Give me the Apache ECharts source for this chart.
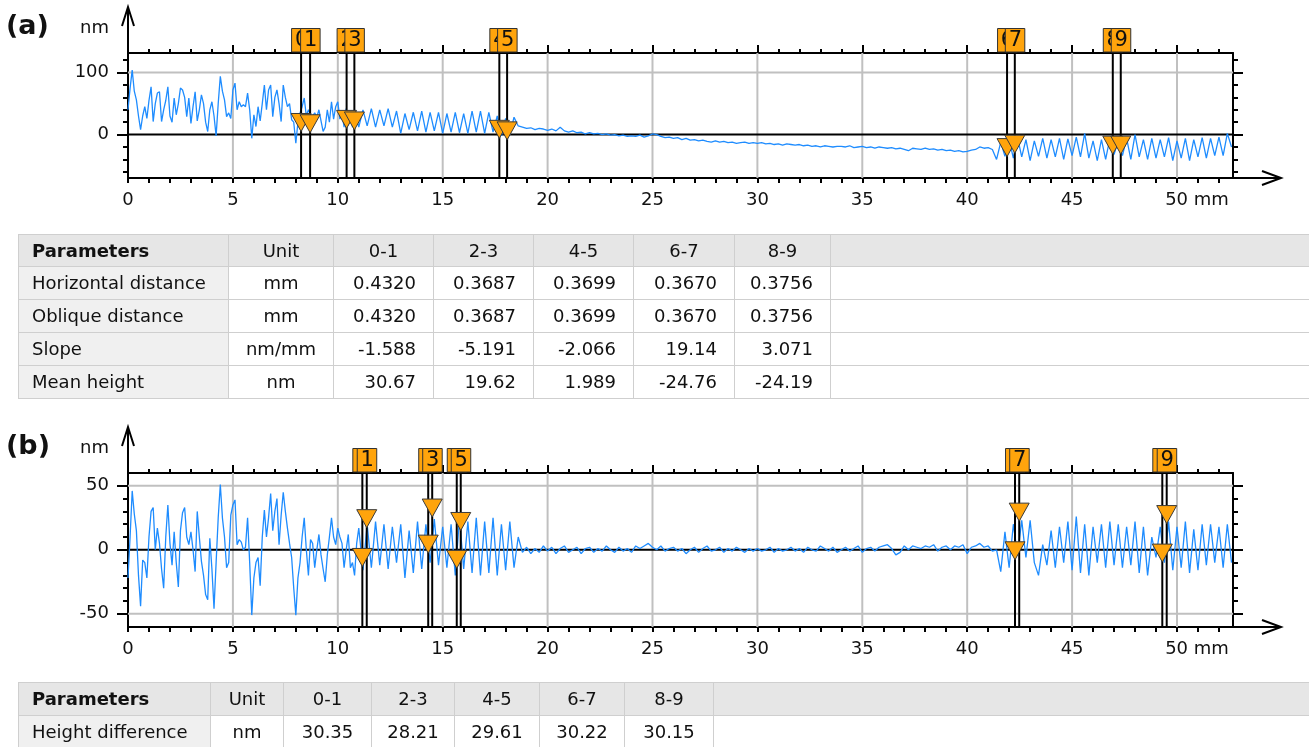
<!DOCTYPE html>
<html><head><meta charset="utf-8">
<script src="https://cdn.jsdelivr.net/npm/echarts@6/dist/echarts.min.js"></script>
<style>
html,body{margin:0;padding:0;background:#fff;width:1309px;height:747px;overflow:hidden;}
#chart{position:absolute;left:0;top:0;width:1309px;height:747px;}
table.tb{position:absolute;border-collapse:collapse;table-layout:fixed;font-family:'DejaVu Sans',sans-serif;font-size:18px;color:#111;}
table.tb td{border:1px solid #cfcfcf;padding:0;white-space:nowrap;overflow:hidden;line-height:20px;}
table.tb tr.hd td{background:#e6e6e6;}
table.tb td.nm{background:#f0f0f0;text-align:left;padding-left:13px;}
table.tb tr.hd td.nm{background:#e6e6e6;font-weight:bold;}
table.tb td.c{text-align:center;}
table.tb td.r{text-align:right;padding-right:17px;}
</style>
</head><body>
<div id="chart"></div>
<table class="tb" id="tabA" style="left:18px;top:234px;width:1292px;"></table>
<table class="tb" id="tabB" style="left:18px;top:682px;width:1292px;"></table>
<script>
// ---------- data ----------
const xMax = 52.67;
// profiles: fine samples 0.0–10.9 mm every 0.1 mm, then coarse samples 11.0–52.6 mm every 0.2 mm
const fineStart = 0, fineStep = 0.1, coarseStart = 11, coarseStep = 0.2;
const profileAFine = [
  40, 75, 104, 70, 56, 30, 8, 30, 45, 26,
  55, 77, 21, 50, 67, 69, 21, 40, 55, 77,
  30, 20, 59, 32, 50, 75, 72, 60, 29, 59,
  18, 45, 69, 22, 40, 64, 50, 20, 5, 40,
  53, 30, -2, 50, 94, 70, 56, 29, 35, 26,
  72, 83, 40, 53, 45, 48, 45, 67, 40, -6,
  32, 13, 45, 22, 50, 80, 40, 72, 80, 29,
  60, 72, 50, 21, 80, 60, 45, 50, 24, 20,
  -14, 20, 35, 45, 59, 30, 40, 32, 30, 35,
  28, 40, 22, 5, 12, 40, 20, 53, 25, 45,
  53, 25, 35, 12, 42, 15, 38, 12, 40, 25
];
const profileACoarse = [
  12, 40, 14, 42, 12,
  40, 14, 42, 12, 38, 2, 34, 8, 36, 6,
  38, 4, 36, 6, 36, 2, 34, 4, 36, 3,
  34, 2, 38, 4, 38, 2, 36, 4, 30, -2,
  26, 0, 28, 14, 12, 10, 11, 8, 10, 9,
  7, 9, 6, 12, 6, 4, 6, 3, 4, 1,
  3, 1, 2, 0, 1, -1, 0, -2, -1, -3,
  -2, -3, -1, -4, -2, 1, 0, -3, -5, -4,
  -6, -5, -8, -6, -9, -8, -10, -9, -11, -12,
  -10, -12, -11, -13, -12, -14, -13, -12, -14, -13,
  -14, -13, -15, -14, -16, -15, -17, -15, -16, -17,
  -16, -18, -17, -19, -18, -20, -18, -19, -20, -19,
  -19, -20, -18, -21, -20, -19, -21, -20, -22, -20,
  -21, -22, -21, -23, -22, -24, -26, -22, -23, -24,
  -22, -24, -23, -25, -24, -26, -25, -27, -26, -28,
  -27, -25, -24, -20, -22, -21, -24, -40, -12, -35,
  -8, -38, -5, -36, -8, -42, -10, -35, -6, -38,
  -8, -36, -6, -40, -7, -34, -4, -36, 2, -38,
  -10, -42, -8, -40, -6, -32, -10, -34, -6, -40,
  0, -36, -8, -40, -6, -38, -8, -36, -5, -42,
  -10, -38, -6, -42, -8, -36, -5, -38, -6, -34,
  -4, -34, 2, -20
];
const profileBFine = [
  -22, 10, 46, 28, 15, -20, -44, -8, -10, -22,
  10, 30, 33, 0, 17, 5, -15, -30, 10, 35,
  5, -12, 14, -10, -29, 15, 29, 33, 10, 4,
  14, 0, -17, 30, 10, -9, -20, -35, -39, 9,
  -15, -46, -10, 25, 51, 25, 10, -14, -10, 27,
  35, 39, 4, 8, 6, 0, 2, 25, -10, -51,
  -22, -10, -6, -28, 10, 31, 10, 25, 44, 15,
  30, 40, 4, 27, 45, 30, 17, 5, -6, -30,
  -51, -22, -10, 10, 25, 0, -20, 8, 5, -14,
  0, 12, -4, -15, -25, -4, 10, 25, 10, 4,
  17, 10, 5, -14, 0, 12, -14, -10, -20, 5
];
const profileBCoarse = [
  17, -16, 20, -14, 22,
  -12, 20, -15, 18, -10, 20, -22, 15, -18, 22,
  -15, 20, -10, 24, -12, 18, -14, 20, -20, 25,
  -15, 22, -18, 25, -20, 22, -18, 25, -20, 20,
  -16, 22, -14, 10, -2, 2, -3, 1, -2, 3,
  -1, 2, -3, 1, 3, -2, 0, 2, -3, 1,
  2, -2, 1, -1, 3, 0, -2, 2, -1, 1,
  -2, 3, 1, 3, 5, 2, 0, 3, -1, 1,
  2, -1, 1, -3, 0, 2, -2, 1, 3, -1,
  0, 2, -2, 1, -1, 2, 0, -2, 1, -1,
  1, -1, 0, 2, -2, 1, -1, 0, 2, -1,
  1, -2, 2, 0, -1, 3, 1, -1, 2, -2,
  0, 2, -1, 1, 3, -2, 1, 2, -1, 2,
  3, 4, 1, -4, -2, 3, 0, 3, 2, 1,
  3, 2, 4, -1, 2, 3, 0, 3, 2, 4,
  -3, 2, 3, 5, 2, 3, -1, 0, -17, 14,
  -14, 20, -4, 23, -6, 23, -10, -20, 4, -12,
  15, -14, 18, -10, 22, -16, 26, -18, 20, -20,
  18, -10, 20, -14, 22, -12, 20, -14, 18, -12,
  22, -18, 18, -20, 10, -6, 18, -10, 22, -16,
  18, -14, 22, -18, 16, -16, 20, -12, 20, -10,
  18, -14, 20, -10
];
const markerLabels = ['0','1','2','3','4','5','6','7','8','9'];
const markerXA = [8.25, 8.68, 10.42, 10.79, 17.70, 18.07, 41.90, 42.27, 46.94, 47.32];
const markerYA = [5, 3, 10, 7.5, -6, -8.5, -35.5, -30, -31.5, -31.5];
const markerXB = [11.17, 11.38, 14.31, 14.50, 15.67, 15.86, 42.28, 42.48, 49.30, 49.51];
const markerYB = [-13, 17.3, -2.6, 25.6, -14.5, 15.1, -7.8, 22.4, -9.6, 20.5];

const xLabelTicks = [0, 5, 10, 15, 20, 25, 30, 35, 40, 45, 50];
const xMinorTicks = [0,1,2,3,4,5,6,7,8,9,10,11,12,13,14,15,16,17,18,19,20,21,22,23,24,25,26,27,28,29,30,31,32,33,34,35,36,37,38,39,40,41,42,43,44,45,46,47,48,49,50,51,52];
const xTopMajorTicks = [5, 10, 15, 20, 25, 30, 35, 40, 45, 50];
const xGridLines = [5, 10, 15, 20, 25, 30, 35, 40, 45, 50];
const yRangeA = [-70, 131.6];
const yLabelTicksA = [0, 100];
const yMinorTicksA = [-60, -40, -20, 0, 20, 40, 60, 80, 100, 120];
const yGridA = [100];
const yRangeB = [-60.3, 60];
const yLabelTicksB = [-50, 0, 50];
const yMinorTicksB = [-50, -40, -30, -20, -10, 0, 10, 20, 30, 40, 50];
const yGridB = [-50, 50];

const pairLabels = ['0-1', '2-3', '4-5', '6-7', '8-9'];
const horizontalDistance = ['0.4320', '0.3687', '0.3699', '0.3670', '0.3756'];
const obliqueDistance = ['0.4320', '0.3687', '0.3699', '0.3670', '0.3756'];
const slope = ['-1.588', '-5.191', '-2.066', '19.14', '3.071'];
const meanHeight = ['30.67', '19.62', '1.989', '-24.76', '-24.19'];
const heightDifference = ['30.35', '28.21', '29.61', '30.22', '30.15'];

// ---------- layout ----------
const FONT = 'DejaVu Sans';
const GRIDS = [
  {left: 128, top: 53, width: 1105, height: 125},
  {left: 128, top: 473, width: 1105, height: 154}
];
const ORANGE = '#FFA40C';

const toPairs = (fine, coarse) =>
  fine.map((v, i) => [fineStart + i * fineStep, v]).concat(coarse.map((v, i) => [coarseStart + i * coarseStep, v]));
const zip = (xs, ys) => xs.map((x, i) => [x, ys[i]]);

const xAxis = [], yAxis = [], series = [];
const blackLine = {color: '#000', width: 2};

function addChart(gi, yRange, yLabels, yMinor, yGrid, profile, mX, mY) {
  const xi = xAxis.length, yi = yAxis.length;
  xAxis.push(
    {gridIndex: gi, type: 'value', position: 'bottom', min: 0, max: xMax,
     axisLine: {show: true, onZero: false, lineStyle: blackLine},
     axisTick: {show: true, customValues: xMinorTicks, length: 5, lineStyle: blackLine},
     axisLabel: {show: true, customValues: xLabelTicks, margin: 13, fontSize: 18, color: '#111', fontFamily: FONT,
       formatter: v => v === 50 ? '{p| }50 mm' : String(v), rich: {p: {width: 40}}},
     splitLine: {show: false}},
    {gridIndex: gi, type: 'value', position: 'top', min: 0, max: xMax,
     axisLine: {show: true, onZero: false, lineStyle: blackLine},
     axisTick: {show: true, customValues: xMinorTicks, length: 4, lineStyle: blackLine},
     axisLabel: {show: false}, splitLine: {show: false}},
    {gridIndex: gi, type: 'value', position: 'top', min: 0, max: xMax,
     axisLine: {show: false, onZero: false},
     axisTick: {show: true, customValues: xTopMajorTicks, length: 8, lineStyle: blackLine},
     axisLabel: {show: false}, splitLine: {show: false}}
  );
  yAxis.push(
    {gridIndex: gi, type: 'value', position: 'left', min: yRange[0], max: yRange[1],
     axisLine: {show: true, onZero: false, lineStyle: blackLine},
     axisTick: {show: true, customValues: yLabels, length: 11, lineStyle: blackLine},
     axisLabel: {show: true, customValues: yLabels, margin: 19, fontSize: 18, color: '#111', fontFamily: FONT},
     splitLine: {show: false}},
    {gridIndex: gi, type: 'value', position: 'left', min: yRange[0], max: yRange[1],
     axisLine: {show: false, onZero: false},
     axisTick: {show: true, customValues: yMinor, length: 5, lineStyle: blackLine},
     axisLabel: {show: false}, splitLine: {show: false}},
    {gridIndex: gi, type: 'value', position: 'right', min: yRange[0], max: yRange[1],
     axisLine: {show: true, onZero: false, lineStyle: blackLine},
     axisTick: {show: true, customValues: yLabels, length: 10, lineStyle: blackLine},
     axisLabel: {show: false}, splitLine: {show: false}},
    {gridIndex: gi, type: 'value', position: 'right', min: yRange[0], max: yRange[1],
     axisLine: {show: false, onZero: false},
     axisTick: {show: true, customValues: yMinor, length: 5, lineStyle: blackLine},
     axisLabel: {show: false}, splitLine: {show: false}}
  );
  const base = {xAxisIndex: xi, yAxisIndex: yi, animation: false, silent: true};
  series.push(Object.assign({}, base, {type: 'custom', z: 1,
    data: xGridLines.map(v => [v, 0]),
    renderItem: (params, api) => {
      const cs = params.coordSys; const x = api.coord([api.value(0), 0])[0];
      return {type: 'line', shape: {x1: x, y1: cs.y, x2: x, y2: cs.y + cs.height}, style: {stroke: '#c0c0c0', lineWidth: 2}};
    }}));
  series.push(Object.assign({}, base, {type: 'custom', z: 1,
    data: yGrid.map(v => [0, v]).concat([[0, 0]]),
    renderItem: (params, api) => {
      const cs = params.coordSys; const y = api.coord([0, api.value(1)])[1];
      const isZero = api.value(1) === 0;
      return {type: 'line', shape: {x1: cs.x, y1: y, x2: cs.x + cs.width, y2: y},
        style: {stroke: isZero ? '#000' : '#c0c0c0', lineWidth: 2}};
    }}));
  series.push(Object.assign({}, base, {type: 'line', z: 2, data: profile, symbol: 'none',
    lineStyle: {color: '#1E8CFF', width: 1.3}}));
  const marks = zip(mX, mY);
  series.push(Object.assign({}, base, {type: 'custom', z: 3, data: marks,
    renderItem: (params, api) => {
      const cs = params.coordSys; const x = api.coord([api.value(0), 0])[0];
      return {type: 'line', shape: {x1: x, y1: cs.y, x2: x, y2: cs.y + cs.height}, style: {stroke: '#000', lineWidth: 2}};
    }}));
  series.push(Object.assign({}, base, {type: 'custom', z: 4, data: marks,
    renderItem: (params, api) => {
      const p = api.coord([api.value(0), api.value(1)]);
      return {type: 'polygon', shape: {points: [[p[0] - 10, p[1] - 18], [p[0] + 10, p[1] - 18], [p[0], p[1]]]},
        style: {fill: ORANGE, stroke: '#3a3a3a', lineWidth: 1}};
    }}));
  series.push(Object.assign({}, base, {type: 'custom', z: 5, data: marks,
    renderItem: (params, api) => {
      const cs = params.coordSys; const x = api.coord([api.value(0), 0])[0];
      return {type: 'group', children: [
        {type: 'rect', shape: {x: x - 9.5, y: cs.y - 24.5, width: 19.5, height: 23.5},
          style: {fill: ORANGE, stroke: '#333', lineWidth: 1}},
        {type: 'text', style: {text: markerLabels[params.dataIndex], x: x + 0.5, y: cs.y - 12,
          align: 'center', verticalAlign: 'middle', font: '21px "DejaVu Sans"', fill: '#111'}}
      ]};
    }}));
}
addChart(0, yRangeA, yLabelTicksA, yMinorTicksA, yGridA, toPairs(profileAFine, profileACoarse), markerXA, markerYA);
addChart(1, yRangeB, yLabelTicksB, yMinorTicksB, yGridB, toPairs(profileBFine, profileBCoarse), markerXB, markerYB);

const graphic = [];
const panelTitles = ['(a)', '(b)'];
GRIDS.forEach((g, i) => {
  const bottom = g.top + g.height, right = g.left + g.width;
  const tipY = g.top - 46;
  graphic.push(
    {type: 'polyline', shape: {points: [[g.left, g.top], [g.left, tipY]]}, style: {stroke: '#000', lineWidth: 2, fill: null}},
    {type: 'polyline', shape: {points: [[g.left - 6, tipY + 19], [g.left, tipY], [g.left + 6, tipY + 19]]}, style: {stroke: '#000', lineWidth: 2, fill: null}},
    {type: 'polyline', shape: {points: [[right, bottom], [right + 48, bottom]]}, style: {stroke: '#000', lineWidth: 2, fill: null}},
    {type: 'polyline', shape: {points: [[right + 29, bottom - 7], [right + 48, bottom], [right + 29, bottom + 7]]}, style: {stroke: '#000', lineWidth: 2, fill: null}},
    {type: 'text', style: {text: 'nm', x: 80, y: g.top - 25, verticalAlign: 'middle', font: '18px "DejaVu Sans"', fill: '#111'}},
    {type: 'text', style: {text: panelTitles[i], x: 6, y: g.top - 26, verticalAlign: 'middle', font: 'bold 27px "DejaVu Sans"', fill: '#111'}}
  );
});

const chart = echarts.init(document.getElementById('chart'), null, {renderer: 'canvas'});
chart.setOption({
  animation: false,
  backgroundColor: '#fff',
  grid: GRIDS.map(g => Object.assign({outerBoundsMode: 'none', containLabel: false}, g)),
  xAxis: xAxis, yAxis: yAxis, series: series, graphic: graphic
});

// ---------- tables ----------
function buildTable(id, widths, headerRow, rows, valueClass, hHead, hRow) {
  let html = '<colgroup>' + widths.map(w => '<col style="width:' + w + 'px">').join('') + '</colgroup>';
  html += '<tr class="hd" style="height:' + hHead + 'px">' + headerRow.map((t, i) =>
    '<td class="' + (i === 0 ? 'nm' : 'c') + '">' + t + '</td>').join('') + '</tr>';
  rows.forEach(r => {
    html += '<tr style="height:' + hRow + 'px">' + r.map((t, i) =>
      '<td class="' + (i === 0 ? 'nm' : (i === 1 ? 'c' : valueClass)) + '">' + t + '</td>').join('') + '</tr>';
  });
  document.getElementById(id).innerHTML = html;
}
const headerCells = ['Parameters', 'Unit'].concat(pairLabels, ['']);
buildTable('tabA', [210, 105, 100, 100, 100, 101, 96, 480], headerCells, [
  ['Horizontal distance', 'mm'].concat(horizontalDistance, ['']),
  ['Oblique distance', 'mm'].concat(obliqueDistance, ['']),
  ['Slope', 'nm/mm'].concat(slope, ['']),
  ['Mean height', 'nm'].concat(meanHeight, [''])
], 'r', 32, 33);
buildTable('tabB', [192, 73, 88, 83, 85, 85, 89, 597], headerCells, [
  ['Height difference', 'nm'].concat(heightDifference, [''])
], 'c', 33, 33);
</script>
</body></html>
